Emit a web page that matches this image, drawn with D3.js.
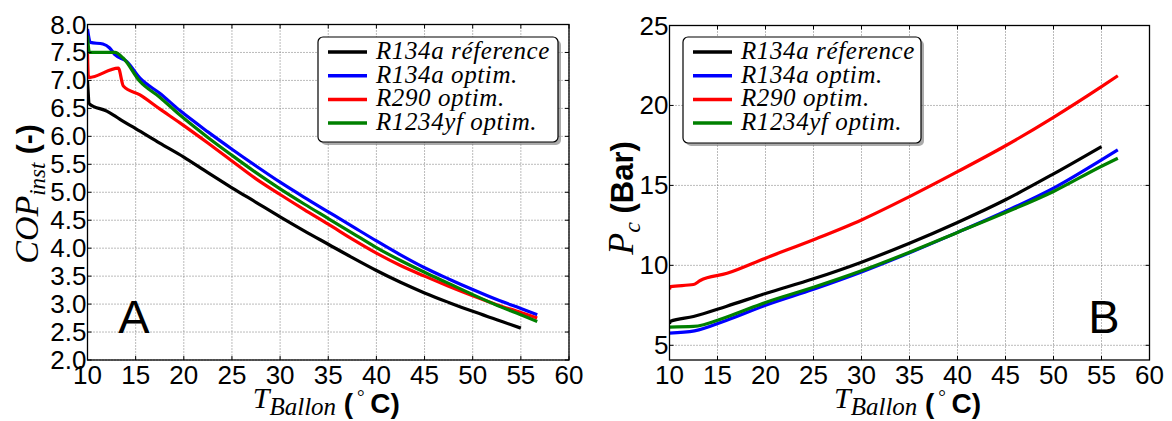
<!DOCTYPE html>
<html><head><meta charset="utf-8">
<script src="https://cdn.jsdelivr.net/npm/d3@7"></script>
<style>
body{margin:0;background:#fff;}
svg{display:block;}
</style></head>
<body>
<svg id="c" width="1172" height="421"></svg>
<script>
// ---------- DATA ----------
const seriesNames = ["R134a réference", "R134a optim.", "R290 optim.", "R1234yf optim."];
const seriesColors = ["#000000", "#0000ff", "#ff0000", "#008000"];
const xTicks = [10, 15, 20, 25, 30, 35, 40, 45, 50, 55, 60];
const copTicks = [2.0, 2.5, 3.0, 3.5, 4.0, 4.5, 5.0, 5.5, 6.0, 6.5, 7.0, 7.5, 8.0];
const pcTicks = [5, 10, 15, 20, 25];

// Panel A: COP_inst vs T_Ballon
const tRefA = [10, 10.2, 12, 12.7, 13.5, 15, 17.5, 20, 22.5, 25, 27.5, 30, 32.5, 35, 37.5, 40, 42.5, 45, 47.5, 50, 52.5, 55];
const copRef = [7.0, 6.58, 6.45, 6.38, 6.29, 6.14, 5.88, 5.63, 5.35, 5.08, 4.82, 4.56, 4.31, 4.07, 3.83, 3.60, 3.39, 3.20, 3.03, 2.87, 2.72, 2.57];
const tBlueA = [10, 10.3, 11.6, 12.3, 12.85, 14.07, 15.45, 17.5, 19.6, 22.5, 25, 27.5, 30, 32.5, 35, 37.5, 40, 42.5, 45, 47.5, 50, 52.5, 55, 56.7];
const copBlue = [7.92, 7.68, 7.65, 7.58, 7.46, 7.34, 7.04, 6.77, 6.46, 6.08, 5.77, 5.47, 5.18, 4.91, 4.65, 4.39, 4.13, 3.88, 3.65, 3.45, 3.26, 3.08, 2.92, 2.81];
const tRedA = [10, 10.1, 13.2, 13.72, 15.45, 17.5, 19.6, 22.5, 25, 27.5, 30, 32.5, 35, 37.5, 40, 42.5, 45, 47.5, 50, 52.5, 55, 56.7];
const copRed = [7.5, 7.05, 7.22, 6.9, 6.74, 6.49, 6.24, 5.88, 5.56, 5.24, 4.96, 4.69, 4.43, 4.16, 3.91, 3.69, 3.50, 3.32, 3.15, 2.99, 2.85, 2.75];
const tGreenA = [10, 10.2, 12.85, 13.7, 15.45, 17.5, 19.6, 22.5, 25, 27.5, 30, 32.5, 35, 37.5, 40, 42.5, 45, 47.5, 50, 52.5, 55, 56.7];
const copGreen = [7.8, 7.5, 7.5, 7.4, 6.98, 6.70, 6.38, 5.98, 5.66, 5.35, 5.06, 4.79, 4.53, 4.27, 4.01, 3.78, 3.57, 3.37, 3.17, 2.98, 2.81, 2.69];

// Panel B: Pc vs T_Ballon
const tRefB = [10, 10.1, 12.5, 15.9, 20, 25, 30, 35, 40, 45, 50, 55];
const pcRef = [6.35, 6.5, 6.8, 7.43, 8.24, 9.16, 10.2, 11.38, 12.68, 14.1, 15.72, 17.43];
const tBlueB = [10, 12.6, 15.9, 20, 25, 30, 35, 40, 45, 50, 55, 56.7];
const pcBlue = [5.76, 5.9, 6.55, 7.5, 8.5, 9.58, 10.78, 12.06, 13.38, 14.83, 16.6, 17.22];
const tRedB = [10, 10.1, 12.5, 13.2, 16, 20, 25, 30, 35, 40, 45, 50, 55, 56.7];
const pcRed = [8.5, 8.67, 8.8, 9.05, 9.5, 10.45, 11.6, 12.84, 14.3, 15.86, 17.48, 19.26, 21.18, 21.86];
const tGreenB = [10, 12.5, 15.9, 20, 25, 30, 35, 40, 45, 50, 55, 56.7];
const pcGreen = [6.14, 6.18, 6.76, 7.68, 8.63, 9.66, 10.82, 12.06, 13.3, 14.62, 16.2, 16.7];

// ---------- DRAW ----------
const svg = d3.select("#c");
const serif = "'Liberation Serif', 'DejaVu Serif', serif";
const sans = "'Liberation Sans', Arial, sans-serif";

function panel(opt) {
  const {x0, x1, y0, y1, ydom, yticks, yfmt, series, letter, letterPos, legendBox, ylab} = opt;
  const x = d3.scaleLinear().domain([10, 60]).range([x0, x1]);
  const y = d3.scaleLinear().domain(ydom).range([y1, y0]);
  const g = svg.append("g");

  // grid
  const grid = g.append("g").attr("stroke", "#777").attr("stroke-width", 1).attr("stroke-dasharray", "1,2");
  xTicks.forEach(t => grid.append("line").attr("x1", x(t)).attr("x2", x(t)).attr("y1", y0).attr("y2", y1));
  yticks.forEach(t => grid.append("line").attr("x1", x0).attr("x2", x1).attr("y1", y(t)).attr("y2", y(t)));

  // clip
  const cid = "clip" + letter;
  svg.append("clipPath").attr("id", cid).append("rect").attr("x", x0).attr("y", y0).attr("width", x1 - x0).attr("height", y1 - y0);

  const line = d3.line().curve(d3.curveMonotoneX).x(d => x(d[0])).y(d => y(d[1]));
  const lg = g.append("g").attr("clip-path", `url(#${cid})`);
  series.forEach((s, i) => {
    const pts = s.t.map((t, k) => [t, s.v[k]]);
    lg.append("path").datum(pts).attr("d", line).attr("fill", "none")
      .attr("stroke", seriesColors[i]).attr("stroke-width", 3.2).attr("stroke-linejoin", "round");
  });

  // frame
  g.append("rect").attr("x", x0).attr("y", y0).attr("width", x1 - x0).attr("height", y1 - y0)
    .attr("fill", "none").attr("stroke", "#000").attr("stroke-width", 1.3);

  // inward ticks
  const tk = g.append("g").attr("stroke", "#000").attr("stroke-width", 1);
  xTicks.forEach(t => {
    tk.append("line").attr("x1", x(t)).attr("x2", x(t)).attr("y1", y1).attr("y2", y1 - 4);
    tk.append("line").attr("x1", x(t)).attr("x2", x(t)).attr("y1", y0).attr("y2", y0 + 4);
  });
  yticks.forEach(t => {
    tk.append("line").attr("x1", x0).attr("x2", x0 + 4).attr("y1", y(t)).attr("y2", y(t));
    tk.append("line").attr("x1", x1).attr("x2", x1 - 4).attr("y1", y(t)).attr("y2", y(t));
  });

  // tick labels
  xTicks.forEach(t => g.append("text").attr("x", x(t)).attr("y", y1 + 24).attr("text-anchor", "middle")
    .attr("font-family", sans).attr("font-size", 26).text(t));
  yticks.forEach(t => g.append("text").attr("x", x0 - 1).attr("y", y(t) + 9).attr("text-anchor", "end")
    .attr("font-family", sans).attr("font-size", 26).text(yfmt(t)));

  // x label
  const xl = g.append("text").attr("x", (x0 + x1) / 2 - 2).attr("y", 408).attr("text-anchor", "middle");
  xl.append("tspan").attr("font-family", serif).attr("font-style", "italic").attr("font-size", 30).text("T");
  xl.append("tspan").attr("font-family", serif).attr("font-style", "italic").attr("font-size", 25).attr("dy", 7).text("Ballon");
  xl.append("tspan").attr("font-family", sans).attr("font-weight", "bold").attr("font-size", 28).attr("dy", -2).text(" (");
  xl.append("tspan").attr("font-family", serif).attr("font-size", 19).attr("dy", -10).text("\u2009\u00B0");
  xl.append("tspan").attr("font-family", sans).attr("font-weight", "bold").attr("font-size", 28).attr("dy", 10).text("\u2009C)");

  // y label
  const yl = g.append("text").attr("transform", `translate(${ylab.x},${ylab.y}) rotate(-90)`).attr("text-anchor", "middle");
  ylab.parts.forEach(p => {
    const ts = yl.append("tspan").text(p.text).attr("font-size", p.size);
    if (p.serif) ts.attr("font-family", serif).attr("font-style", "italic");
    else ts.attr("font-family", sans).attr("font-weight", "bold");
    if (p.dy) ts.attr("dy", p.dy);
  });

  // panel letter
  g.append("text").attr("x", letterPos[0]).attr("y", letterPos[1]).attr("text-anchor", "middle")
    .attr("font-family", sans).attr("font-size", 47).text(letter);

  // legend
  const L = legendBox;
  const leg = g.append("g");
  leg.append("rect").attr("x", L.x + 3).attr("y", L.y + 3).attr("width", L.w).attr("height", L.h)
    .attr("rx", 5).attr("fill", "#666").attr("opacity", 0.55);
  leg.append("rect").attr("x", L.x).attr("y", L.y).attr("width", L.w).attr("height", L.h)
    .attr("rx", 5).attr("fill", "#fff").attr("stroke", "#000").attr("stroke-width", 1.2);
  seriesNames.forEach((n, i) => {
    const yy = L.y + 15 + i * 23.7;
    leg.append("line").attr("x1", L.x + 10).attr("x2", L.x + 49).attr("y1", yy).attr("y2", yy)
      .attr("stroke", seriesColors[i]).attr("stroke-width", 3.5);
    leg.append("text").attr("x", L.x + 58).attr("y", yy + 7).attr("font-family", serif).attr("font-style", "italic")
      .attr("font-size", 25).attr("letter-spacing", 0.6).text(n);
  });
}

panel({
  x0: 87.5, x1: 569, y0: 24.5, y1: 360, ydom: [2, 8], yticks: copTicks, yfmt: d3.format(".1f"),
  series: [{t: tRefA, v: copRef}, {t: tBlueA, v: copBlue}, {t: tRedA, v: copRed}, {t: tGreenA, v: copGreen}],
  letter: "A", letterPos: [134, 333], legendBox: {x: 318, y: 37, w: 240, h: 105},
  ylab: {x: 38, y: 194, parts: [
    {text: "COP", size: 34, serif: true},
    {text: "inst", size: 23, serif: true, dy: 7},
    {text: " (-)", size: 30, serif: false, dy: -7}
  ]}
});

panel({
  x0: 669.5, x1: 1149.5, y0: 25.5, y1: 360, ydom: [4.08, 25], yticks: pcTicks, yfmt: d3.format("d"),
  series: [{t: tRefB, v: pcRef}, {t: tBlueB, v: pcBlue}, {t: tRedB, v: pcRed}, {t: tGreenB, v: pcGreen}],
  letter: "B", letterPos: [1104, 333], legendBox: {x: 683, y: 37, w: 238, h: 106},
  ylab: {x: 633, y: 198, parts: [
    {text: "P", size: 36, serif: true},
    {text: "c", size: 24, serif: true, dy: 7},
    {text: " (Bar)", size: 31, serif: false, dy: -7}
  ]}
});
</script>
</body></html>
